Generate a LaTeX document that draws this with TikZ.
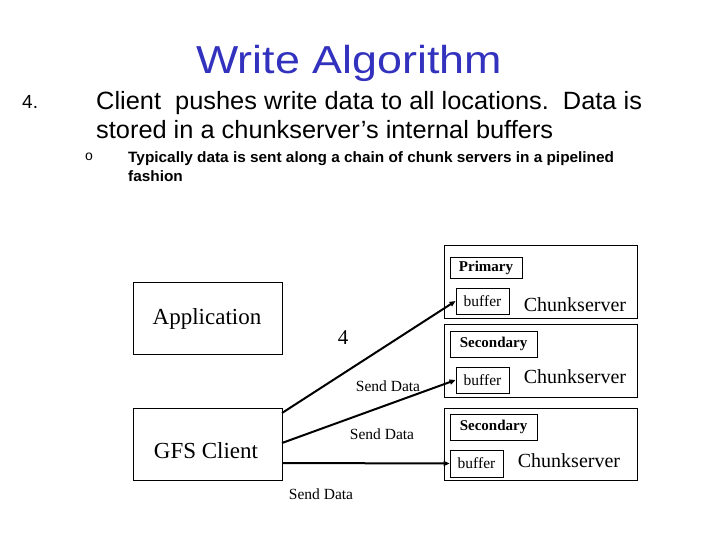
\documentclass[tikz,border=0pt]{standalone}
\usepackage{fontspec}
\setmainfont{Liberation Serif}
\newfontfamily\slidefont{Liberation Sans}
\usetikzlibrary{arrows.meta}
\definecolor{titleblue}{RGB}{50,50,190}
\tikzset{
  box/.style={draw=black, line width=0.8pt, inner sep=0pt, anchor=center},
  tag/.style={box, font=\fontsize{15}{15}\selectfont\bfseries},
  buf/.style={box, font=\fontsize{15.5}{16}\selectfont},
  cslabel/.style={font=\fontsize{20}{20}\selectfont, inner sep=0pt},
  sendlbl/.style={font=\fontsize{15.5}{16}\selectfont, inner sep=0pt},
  bodyline/.style={inner sep=0pt, anchor=base west, font=\slidefont\fontsize{25}{29}\selectfont},
  subline/.style={inner sep=0pt, anchor=base west, font=\slidefont\fontsize{15}{19}\selectfont\bfseries},
  conn/.style={line width=2pt, -{Triangle[length=6pt,width=5pt]}}
}
\begin{document}
\begin{tikzpicture}[x=1pt,y=-1pt]
\path[use as bounding box, fill=white] (0,0) rectangle (720,540);
% title
\node[inner sep=0pt, text=titleblue, font=\slidefont\fontsize{39}{39}\selectfont] (title) at (349,63) {\scalebox{1.15}[1]{Write Algorithm}};
% body
\node[inner sep=0pt, anchor=base west, font=\slidefont\fontsize{19}{19}\selectfont] (num) at (22,109) {4.};
\node[bodyline] (body1) at (96,110) {\scalebox{1.015}[1]{Client\ \ pushes write data to all locations.\ \ Data is}};
\node[bodyline] (body2) at (96,139) {\scalebox{1.015}[1]{stored in a chunkserver’s internal buffers}};
\node[inner sep=0pt, font=\slidefont\fontsize{14}{14}\selectfont] (bullet) at (89,157) {o};
\node[subline] (sub1) at (128,163) {\scalebox{1.025}[1]{Typically data is sent along a chain of chunk servers in a pipelined}};
\node[subline] (sub2) at (128,182) {\scalebox{1.025}[1]{fashion}};
% left boxes
\node[box, minimum width=149pt, minimum height=72pt] (app) at (207.5,318) {};
\node[box, minimum width=149pt, minimum height=72pt] (client) at (207.5,444) {};
\node[inner sep=0pt, font=\fontsize{23}{23}\selectfont] (applbl) at (207,319) {Application};
\node[inner sep=0pt, font=\fontsize{23}{23}\selectfont] (clientlbl) at (206,451) {GFS Client};
% chunkservers
\node[box, minimum width=193pt, minimum height=73pt] (cs1) at (540.5,281.5) {};
\node[box, minimum width=193pt, minimum height=73pt] (cs2) at (540.5,360.5) {};
\node[box, minimum width=193pt, minimum height=72pt] (cs3) at (540.5,444) {};
\node[tag, minimum width=72pt, minimum height=21pt] (prim) at (486,267.5) {Primary};
\node[buf, minimum width=53pt, minimum height=26pt] (buf1) at (482.5,301) {buffer};
\node[tag, minimum width=87pt, minimum height=26pt] (sec2) at (493.5,344) {Secondary};
\node[buf, minimum width=53pt, minimum height=26pt] (buf2) at (482.5,380) {buffer};
\node[tag, minimum width=87pt, minimum height=26pt] (sec3) at (493.5,427) {Secondary};
\node[buf, minimum width=53pt, minimum height=27pt] (buf3) at (476.5,463.5) {buffer};
\node[cslabel] (cl1) at (575,305) {Chunkserver};
\node[cslabel] (cl2) at (575,377) {Chunkserver};
\node[cslabel] (cl3) at (569,461) {Chunkserver};
% labels
\node[inner sep=0pt, font=\fontsize{21}{21}\selectfont] (four) at (343,338) {4};
\node[sendlbl] (sd1) at (388,386) {Send Data};
\node[sendlbl] (sd2) at (382,434) {Send Data};
\node[sendlbl] (sd3) at (321,494) {Send Data};
% connectors
\coordinate (c1) at (282,413);
\coordinate (c2) at (282,443);
\coordinate (c3) at (282,463);
\draw[conn] (c1) -- (buf1.west);
\draw[conn] (c2) -- (buf2.west);
\draw[conn] (c3) -- (buf3.west);
\end{tikzpicture}
\end{document}
